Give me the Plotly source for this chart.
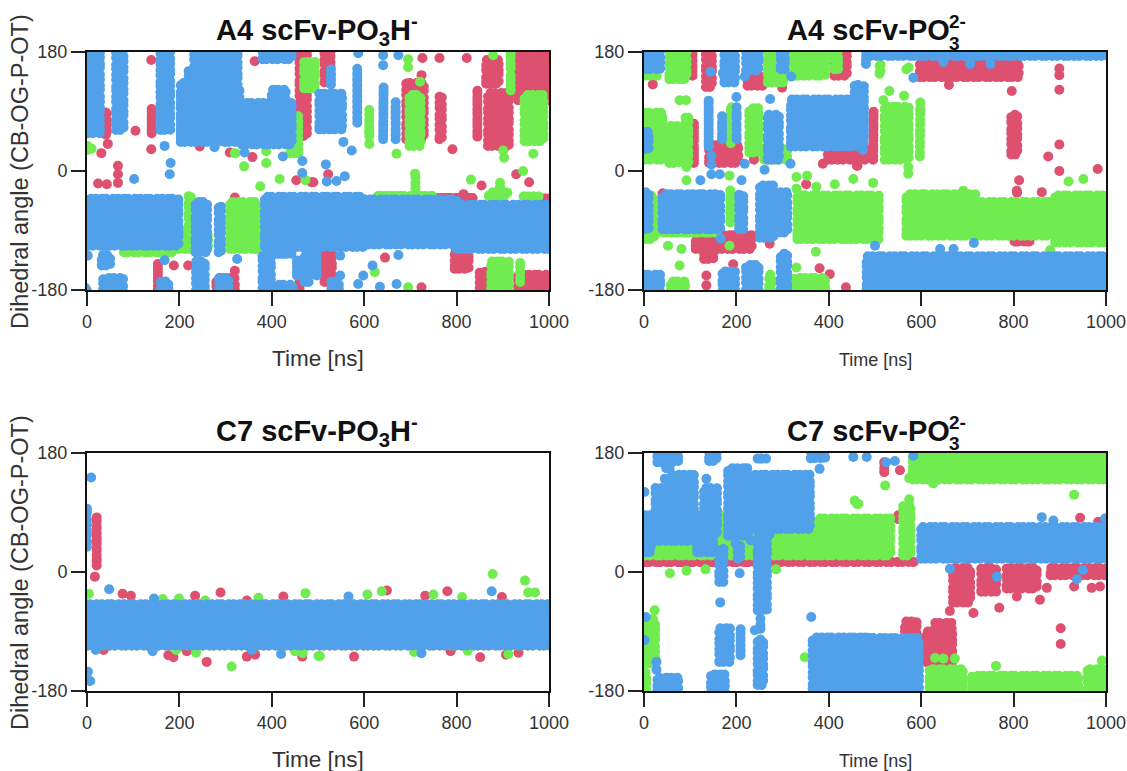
import plotly.graph_objects as go

W, H = 1127, 771
RED, GREEN, BLUE = "#DE5070", "#70EC50", "#50A0EA"
TIME_TICKS = [0, 200, 400, 600, 800, 1000]
ANGLE_TICKS = [-180, 0, 180]
ANGLE_LABELS = ["-180", "0", "180"]

# Occupied bands: (t start, t end, angle low, angle high)
A4H_red = [(31,53,48,97),(130,150,50,102),(450,486,46,180),(504,537,127,180),(681,739,41,140),(753,778,41,120),
           (836,854,45,130),(858,923,31,125),(854,901,125,175),(923,1000,100,180),(786,836,-155,-115),(840,872,-180,-145),
           (923,1000,-180,-150),(504,540,-175,-100),(146,161,-180,-130),(270,330,-180,-155),(450,470,-180,-160),
           (640,690,-48,-32),(740,850,-48,-32),(950,1000,-48,-35)]
A4H_green = [(0,20,25,45),(180,225,-125,-85),(210,235,-125,-30),(250,272,-125,-90),(300,378,-125,-40),(450,464,20,90),
             (310,335,20,35),(430,460,20,35),(460,503,118,172),(70,200,-130,-115),(0,5,-120,-100),(620,700,-45,-30),
             (690,760,-45,-30),(860,920,-45,-25),(935,990,-45,-32),(706,716,-40,-2),(887,901,-40,-10),(555,598,-115,-105),
             (865,923,-180,-130),(930,945,-175,-130),(688,732,31,122),(937,998,38,122),(908,926,115,180),(604,618,46,100)]
A4H_blue = [(0,38,50,180),(53,89,55,180),(149,190,55,180),(193,220,50,140),(210,235,40,160),(222,336,100,180),(193,340,37,132),
            (325,453,33,110),(370,453,162,180),(390,440,100,130),(493,562,56,124),(519,537,124,162),(576,594,66,162),
            (631,652,41,135),(659,677,41,112),(0,208,-120,-35),(225,270,-130,-40),(275,300,-130,-45),(375,610,-122,-32),
            (590,810,-118,-36),(790,1000,-125,-44),(0,12,-135,-120),(22,60,-150,-120),(0,10,-180,-170),(25,88,-180,-155),
            (150,186,-180,-160),(226,265,-180,-130),(276,316,-180,-155),(370,408,-180,-120),(400,455,-130,-120),
            (400,455,-180,-165),(445,464,-165,-125),(461,490,-175,-115),(490,504,-165,-110),(519,555,-180,-160)]
A4H_red_t = [139,363,105,139,45,31,67,67,67,24,43,188,358,453,486,244,309,219,320,320,726,763,822,692,724,791,929,957,854,815,522,490,645,724,905]
A4H_red_y = [168,166,61,33,41,27,8,-5,-18,-19,-20,-143,21,-14,-17,37,28,-143,-40,-151,171,171,171,132,145,33,-5,-17,-22,-35,-5,-17,-131,-176,36]
A4H_green_t = [340,388,417,375,388,473,695,695,721,611,611,670,901,903,944,831,966,623,695,879,710]
A4H_green_y = [7,12,-12,-23,30,-14,169,157,135,41,59,26,31,20,0,-13,26,-153,-176,175,-4]
A4H_blue_t = [168,181,179,102,466,466,325,168,424,341,276,517,558,519,540,573,555,548,598,548,634,674,587,641,641,670,674,618,587]
A4H_blue_y = [38,12,-5,-12,15,-3,-133,-135,22,28,36,10,-8,-16,-15,31,44,-128,-158,-158,-175,175,178,175,160,-171,-127,-143,-171]

A4P_red = [(124,157,120,180),(102,108,137,180),(99,117,5,82),(131,214,5,46),(214,272,122,150),(229,247,10,35),(30,55,-40,-28),
           (102,243,-125,-90),(120,160,-140,-95),(388,488,10,46),(486,507,10,100),(402,449,137,180),(587,821,135,170),
           (785,818,18,92),(792,850,-113,-100),(973,1000,-110,-98),(800,815,-40,-25)]
A4P_green = [(0,38,137,180),(45,102,132,180),(0,50,10,95),(45,85,5,75),(80,106,5,90),(258,315,127,180),(315,402,137,180),
             (402,430,147,180),(178,200,35,107),(218,258,21,102),(250,320,10,40),(0,32,-110,-30),(30,171,-100,-85),
             (178,196,-85,-20),(322,518,-110,-30),(558,720,-105,-28),(710,890,-105,-40),(880,1000,-115,-30),
             (511,583,10,104),(587,608,15,114),(500,522,140,170),(558,583,147,165),(48,99,-180,-160),(261,286,-180,-150),(315,402,-180,-155)]
A4P_blue = [(0,45,147,180),(164,207,127,180),(211,258,145,180),(286,315,147,180),(131,149,30,115),(160,178,41,92),(193,208,41,107),
            (258,302,10,92),(308,485,30,115),(446,486,46,137),(0,20,26,66),(30,175,-95,-28),(0,20,-95,-25),(196,225,-95,-28),
            (241,290,-108,-15),(285,320,-100,-25),(0,45,-180,-150),(160,207,-180,-145),(211,258,-180,-135),(286,320,-180,-118),
            (472,1000,-180,-122),(471,1000,167,180),(471,490,155,175)]
A4P_red_t = [19,299,387,272,351,461,462,660,796,899,899,899,899,875,899,812,982,807,861,437,135,135,402,380,193]
A4P_red_y = [131,126,11,-110,-20,8,8,130,121,155,145,123,40,22,0,-14,3,-30,-32,-176,-158,-173,-156,-147,-141]
A4P_green_t = [77,91,330,353,330,348,373,372,185,330,77,52,92,92,81,185,413,531,518,563,572,572,453,496,951,919,879,691,717]
A4P_green_y = [107,107,-9,-7,-27,-37,-24,-122,-7,-146,-143,-113,6,-14,-118,-113,-20,121,107,114,-4,6,-12,-18,-12,-16,-120,-30,-35]
A4P_blue_t = [144,171,200,218,319,273,146,146,146,164,122,211,218,166,317,261,474,583,706,750,648,500,641,670,714]
A4P_blue_y = [150,148,112,143,143,109,23,10,-5,-5,-14,-14,11,-102,11,2,32,141,162,162,165,-113,-118,-118,-109]

C7H_red = [(15,27,3,91),(0,1000,-118,-42)]
C7H_green = [(0,1000,-118,-42)]
C7H_blue = [(0,10,30,104),(0,1000,-118,-42)]
C7H_red_t = [17,77,95,234,289,346,425,259,346,364,176,187,36,466,216,780,649,732,578,851,787,934,907,898]
C7H_red_y = [-7,-33,-36,-36,-31,-43,-37,-136,-128,-125,-126,-129,-118,-128,-120,-29,-28,-36,-128,-129,-120,-122,-125,-38]
C7H_green_t = [4,313,473,371,164,199,256,450,501,236,193,133,878,948,607,638,750,812,955,970,504,708,824,912,467]
C7H_green_y = [-33,-143,-32,-39,-41,-40,-43,-120,-127,-122,-118,-110,-3,-13,-34,-29,-34,-38,-31,-31,-127,-121,-119,-124,-123]
C7H_blue_t = [9,48,2,7,145,142,19,420,357,876,566,724]
C7H_blue_y = [143,-26,-151,-165,-40,-120,-118,-124,-118,-29,-37,-123]

C7P_red = [(0,600,8,22),(543,558,73,93),(511,529,144,176),(555,600,-105,-68),(600,677,-143,-83),(620,676,-140,-70),
           (659,716,-53,13),(720,772,-37,13),(775,860,-32,13),(870,1000,-12,13)]
C7P_green = [(0,34,-145,-65),(0,15,-180,-145),(156,258,18,93),(250,380,18,68),(365,543,18,88),(551,587,18,108),(0,157,18,45),
             (572,1000,133,180),(608,700,-180,-140),(700,950,-180,-150),(950,1000,-180,-140)]
C7P_blue = [(19,84,159,180),(38,66,150,165),(131,167,161,180),(236,276,165,178),(351,402,165,180),(0,25,23,93),(15,60,40,134),
            (50,118,40,154),(105,160,23,93),(120,168,50,134),(153,182,-22,43),(172,235,48,164),(193,218,13,48),(229,369,58,154),
            (236,276,-65,63),(243,261,-93,-60),(236,268,-178,-95),(153,196,-143,-78),(200,218,-133,-78),(135,185,-180,-148),
            (19,84,-180,-153),(355,490,-180,-92),(446,605,-180,-93),(590,1000,13,75)]
C7P_red_t = [554,713,769,902,902,800,807,857,872,969,987,931,662,944,983]
C7P_red_y = [154,-62,-54,-85,-109,-22,-37,-42,-24,-24,-22,-22,-59,82,76]
C7P_green_t = [56,92,133,286,348,23,456,461,464,522,574,574,626,931,630,648,673,762,991]
C7P_green_y = [-2,2,4,4,-129,-58,108,103,103,131,142,110,134,117,-130,-131,-131,-142,-134]
C7P_blue_t = [165,362,240,135,45,380,207,272,231,198,1,4,1,27,27,861,886,764,662,937,950,524,543,482,453,583,998]
C7P_blue_y = [-46,-68,-88,141,141,156,-2,57,48,43,121,-68,-103,-136,-148,83,78,-7,5,-11,3,166,168,174,174,176,81]

TITLES = ["A4 scFv-PO<sub>3</sub>H<sup>-</sup>", "A4 scFv-PO", "C7 scFv-PO<sub>3</sub>H<sup>-</sup>", "C7 scFv-PO"]
PANELS = [
    (A4H_red, A4H_green, A4H_blue, A4H_red_t, A4H_red_y, A4H_green_t, A4H_green_y, A4H_blue_t, A4H_blue_y),
    (A4P_red, A4P_green, A4P_blue, A4P_red_t, A4P_red_y, A4P_green_t, A4P_green_y, A4P_blue_t, A4P_blue_y),
    (C7H_red, C7H_green, C7H_blue, C7H_red_t, C7H_red_y, C7H_green_t, C7H_green_y, C7H_blue_t, C7H_blue_y),
    (C7P_red, C7P_green, C7P_blue, C7P_red_t, C7P_red_y, C7P_green_t, C7P_green_y, C7P_blue_t, C7P_blue_y),
]
BOXES = [(87, 549, 52, 290), (644, 1106, 52, 290), (87, 549, 453, 691), (644, 1106, 453, 691)]

INSET_T, INSET_Y = 10.0, 7.0   # half a dot, in data units
OVER = 20  # bands that touch the frame run past it and are clipped


def outline(bands):
    xs, ys = [], []
    for a, b, lo, hi in bands:
        a2 = -OVER if a <= 0 else a + INSET_T
        b2 = 1000 + OVER if b >= 1000 else b - INSET_T
        lo2 = -180 - OVER if lo <= -180 else lo + INSET_Y
        hi2 = 180 + OVER if hi >= 180 else hi - INSET_Y
        if a2 > b2:
            a2 = b2 = (a + b) / 2
        if lo2 > hi2:
            lo2 = hi2 = (lo + hi) / 2
        xs += [a2, b2, b2, a2, a2, None]
        ys += [lo2, lo2, hi2, hi2, lo2, None]
    return xs, ys


def note(x, y, text, size, color, angle=0, anchor="center"):
    fig.add_annotation(xref="paper", yref="paper", x=x / W, y=1 - y / H, text=text, showarrow=False, textangle=angle,
                       xanchor=anchor, yanchor="middle", font=dict(size=size, color=color, family="Liberation Sans"))


fig = go.Figure()
for i, panel in enumerate(PANELS):
    x0, x1, y0, y1 = BOXES[i]
    n = "" if i == 0 else str(i + 1)
    tf = dict(size=18, color="#333", family="Liberation Sans")
    fig.update_layout({
        f"xaxis{n}": dict(domain=[x0 / W, x1 / W], range=[0, 1000], anchor=f"y{n}", tickvals=TIME_TICKS, automargin=False,
                          ticks="outside", ticklen=14, tickwidth=1.5, tickcolor="#222", linecolor="#111", linewidth=2,
                          mirror=True, showgrid=False, zeroline=False, tickfont=tf),
        f"yaxis{n}": dict(domain=[1 - y1 / H, 1 - y0 / H], range=[-180, 180], anchor=f"x{n}", tickvals=ANGLE_TICKS, automargin=False,
                          ticktext=ANGLE_LABELS, ticks="outside", ticklen=14, tickwidth=1.5, tickcolor="#222", linecolor="#111",
                          linewidth=2, mirror=True, showgrid=False, zeroline=False, tickfont=tf),
    })
    for c, (bands, tx, ty) in enumerate([(panel[0], panel[3], panel[4]), (panel[1], panel[5], panel[6]), (panel[2], panel[7], panel[8])]):
        color = [RED, GREEN, BLUE][c]
        bx, by = outline(bands)
        fig.add_trace(go.Scatter(x=bx, y=by, mode="lines", fill="toself", fillcolor=color,
                                 line=dict(color=color, width=10, dash="0px,4px,0px,6px,0px,5px,0px,7px"),
                                 xaxis=f"x{n}", yaxis=f"y{n}", showlegend=False, hoverinfo="skip"))
        fig.add_trace(go.Scatter(x=tx, y=ty, mode="markers", marker=dict(color=color, size=10), xaxis=f"x{n}", yaxis=f"y{n}",
                                 showlegend=False))
    small = i % 2 == 1
    if small:
        note(785, y0 - 22, f"<b>{TITLES[i]}</b>", 29, "#111", anchor="left")
        note(954, y0 - 9, "<b>3</b>", 19, "#111")
        note(957, y0 - 31, "<b>2-</b>", 19, "#111")
    else:
        note((x0 + x1) / 2 - 1, y0 - 22, f"<b>{TITLES[i]}</b>", 29, "#111")
        note(20, (y0 + y1) / 2 + 1, "Dihedral angle (CB-OG-P-OT)", 23.5, "#333", -90)
    note((x0 + x1) / 2, y1 + (70 if small else 68), "Time [ns]", 18 if small else 22.5, "#333")

fig.update_layout(width=W, height=H, margin=dict(l=0, r=0, t=0, b=0), paper_bgcolor="white", plot_bgcolor="white", showlegend=False)
post = ("var s=document.createElement('style');s.textContent='path.js-line{stroke-linecap:round;stroke-linejoin:round}';"
        "document.head.appendChild(s);document.body.style.margin='0';document.documentElement.style.overflow='hidden';")
fig.write_html("out.html", post_script=post, config={"displayModeBar": False})
